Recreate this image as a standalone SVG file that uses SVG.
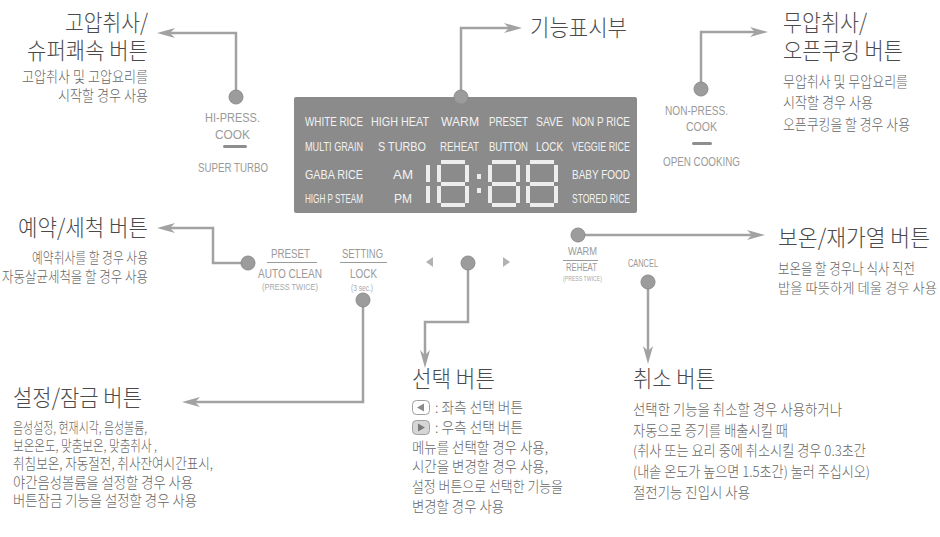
<svg xmlns="http://www.w3.org/2000/svg" width="940" height="537" viewBox="0 0 940 537">
<style>
.ttl{font-family:"Noto Sans CJK KR","Noto Sans",sans-serif;font-size:23px;font-weight:300;fill:#4a4a4a}
.sub{font-family:"Noto Sans CJK KR","Noto Sans",sans-serif;font-size:14.5px;font-weight:300;fill:#666666}
.lbl{font-family:"Liberation Sans",Arial,sans-serif;font-size:12px;fill:#9a9a9a}
.sm{font-family:"Liberation Sans",Arial,sans-serif;font-size:8.5px;fill:#a8a8a8}
.dsp{font-family:"Liberation Sans",Arial,sans-serif;font-size:13px;fill:#f2f2f2}
.seg{fill:#ededed}
.conn{fill:none;stroke:#a2a2a2;stroke-width:2.5}
.dot{fill:#9c9c9c;stroke:#8c8c8c;stroke-width:1}
.div{stroke:#9a9a9a;stroke-width:1}
.tri{fill:#b2b2b2}
</style>
<defs>
<marker id="ah" markerUnits="userSpaceOnUse" markerWidth="20" markerHeight="12" refX="5" refY="5" orient="auto" overflow="visible">
<path d="M0,0 L18,5 L0,10 L5,5 z" fill="#a2a2a2"/>
</marker>
<g id="d8">
<rect class="seg" x="4" y="0" width="24" height="4"/>
<rect class="seg" x="28" y="5" width="4" height="17"/>
<rect class="seg" x="28" y="26" width="4" height="17"/>
<rect class="seg" x="4" y="43" width="24" height="4"/>
<rect class="seg" x="0" y="26" width="4" height="17"/>
<rect class="seg" x="0" y="5" width="4" height="17"/>
<rect class="seg" x="4" y="22" width="24" height="4"/>
</g>
</defs>
<rect width="940" height="537" fill="#ffffff"/>

<g id="connectors">
<path class="conn" d="M236,97 V33 H170" marker-end="url(#ah)"/>
<path class="conn" d="M461,97 V28 H509" marker-end="url(#ah)"/>
<path class="conn" d="M701,89 V32 H755" marker-end="url(#ah)"/>
<path class="conn" d="M248,263 H213 V228 H170" marker-end="url(#ah)"/>
<path class="conn" d="M363,300 V402 H195" marker-end="url(#ah)"/>
<path class="conn" d="M468,263 V322 H425 V355" marker-end="url(#ah)"/>
<path class="conn" d="M578,235 H752" marker-end="url(#ah)"/>
<path class="conn" d="M648,282 V351" marker-end="url(#ah)"/>
</g>

<g id="display">
<rect x="294" y="97" width="343" height="116" rx="2" fill="#8b8b8b"/>
<text class="dsp" x="305" y="126" textLength="58" lengthAdjust="spacingAndGlyphs">WHITE RICE</text>
<text class="dsp" x="371" y="126" textLength="58" lengthAdjust="spacingAndGlyphs">HIGH HEAT</text>
<text class="dsp" x="441" y="126" textLength="38" lengthAdjust="spacingAndGlyphs">WARM</text>
<text class="dsp" x="489" y="126" textLength="39" lengthAdjust="spacingAndGlyphs">PRESET</text>
<text class="dsp" x="536" y="126" textLength="27" lengthAdjust="spacingAndGlyphs">SAVE</text>
<text class="dsp" x="572" y="126" textLength="58" lengthAdjust="spacingAndGlyphs">NON P RICE</text>
<text class="dsp" x="305" y="151" textLength="58" lengthAdjust="spacingAndGlyphs">MULTI GRAIN</text>
<text class="dsp" x="378" y="151" textLength="48" lengthAdjust="spacingAndGlyphs">S TURBO</text>
<text class="dsp" x="440" y="151" textLength="39" lengthAdjust="spacingAndGlyphs">REHEAT</text>
<text class="dsp" x="489" y="151" textLength="39" lengthAdjust="spacingAndGlyphs">BUTTON</text>
<text class="dsp" x="536" y="151" textLength="27" lengthAdjust="spacingAndGlyphs">LOCK</text>
<text class="dsp" x="572" y="151" textLength="58" lengthAdjust="spacingAndGlyphs">VEGGIE RICE</text>
<text class="dsp" x="305" y="179" textLength="58" lengthAdjust="spacingAndGlyphs">GABA RICE</text>
<text class="dsp" x="393" y="179" textLength="20" lengthAdjust="spacingAndGlyphs">AM</text>
<text class="dsp" x="572" y="179" textLength="58" lengthAdjust="spacingAndGlyphs">BABY FOOD</text>
<text class="dsp" x="305" y="203" textLength="58" lengthAdjust="spacingAndGlyphs">HIGH P STEAM</text>
<text class="dsp" x="394" y="203" textLength="18" lengthAdjust="spacingAndGlyphs">PM</text>
<text class="dsp" x="572" y="203" textLength="58" lengthAdjust="spacingAndGlyphs">STORED RICE</text>
<rect class="seg" x="426" y="165" width="4" height="17"/>
<rect class="seg" x="426" y="186" width="4" height="17"/>
<use href="#d8" x="437" y="160"/>
<rect class="seg" x="477" y="174" width="4" height="5"/>
<rect class="seg" x="477" y="188" width="4" height="5"/>
<use href="#d8" x="488" y="160"/>
<use href="#d8" x="526" y="160"/>
<circle class="dot" cx="461" cy="97" r="7"/>
</g>

<g id="hi-press">
<circle class="dot" cx="236" cy="97" r="7"/>
<text class="lbl" x="205" y="122" textLength="55" lengthAdjust="spacingAndGlyphs">HI-PRESS.</text>
<text class="lbl" x="215" y="139" textLength="35" lengthAdjust="spacingAndGlyphs">COOK</text>
<rect x="223" y="145" width="24" height="3" rx="1.5" fill="#8e8e8e"/>
<text class="lbl" x="198" y="172" textLength="70" lengthAdjust="spacingAndGlyphs">SUPER TURBO</text>
<text class="ttl" x="65" y="31" textLength="83" lengthAdjust="spacingAndGlyphs">고압취사/</text>
<text class="ttl" x="27" y="59" textLength="121" lengthAdjust="spacingAndGlyphs">슈퍼쾌속 버튼</text>
<text class="sub" x="22" y="82" textLength="126" lengthAdjust="spacingAndGlyphs">고압취사 및 고압요리를</text>
<text class="sub" x="58" y="101" textLength="90" lengthAdjust="spacingAndGlyphs">시작할 경우 사용</text>
</g>

<g id="display-label">
<text class="ttl" x="530" y="36" textLength="97" lengthAdjust="spacingAndGlyphs">기능표시부</text>
</g>

<g id="non-press">
<circle class="dot" cx="701" cy="89" r="7"/>
<text class="lbl" x="665" y="115" textLength="63" lengthAdjust="spacingAndGlyphs">NON-PRESS.</text>
<text class="lbl" x="686" y="131" textLength="31" lengthAdjust="spacingAndGlyphs">COOK</text>
<rect x="692" y="142" width="20" height="3" rx="1.5" fill="#8e8e8e"/>
<text class="lbl" x="663" y="166" textLength="77" lengthAdjust="spacingAndGlyphs">OPEN COOKING</text>
<text class="ttl" x="783" y="31" textLength="84" lengthAdjust="spacingAndGlyphs">무압취사/</text>
<text class="ttl" x="783" y="59" textLength="120" lengthAdjust="spacingAndGlyphs">오픈쿠킹 버튼</text>
<text class="sub" x="783" y="87" textLength="125" lengthAdjust="spacingAndGlyphs">무압취사 및 무압요리를</text>
<text class="sub" x="783" y="108" textLength="90" lengthAdjust="spacingAndGlyphs">시작할 경우 사용</text>
<text class="sub" x="783" y="130" textLength="127" lengthAdjust="spacingAndGlyphs">오픈쿠킹을 할 경우 사용</text>
</g>

<g id="preset">
<circle class="dot" cx="248" cy="263" r="7"/>
<text class="lbl" x="271" y="258" textLength="39" lengthAdjust="spacingAndGlyphs">PRESET</text>
<line class="div" x1="267" y1="262.5" x2="317" y2="262.5"/>
<text class="lbl" x="258" y="278" textLength="64" lengthAdjust="spacingAndGlyphs">AUTO CLEAN</text>
<text class="sm" x="262" y="290" textLength="56" lengthAdjust="spacingAndGlyphs">(PRESS TWICE)</text>
<text class="ttl" x="18" y="236" textLength="130" lengthAdjust="spacingAndGlyphs">예약/세척 버튼</text>
<text class="sub" x="32" y="263" textLength="116" lengthAdjust="spacingAndGlyphs">예약취사를 할 경우 사용</text>
<text class="sub" x="2" y="282" textLength="146" lengthAdjust="spacingAndGlyphs">자동살균세척을 할 경우 사용</text>
</g>

<g id="setting">
<circle class="dot" cx="363" cy="300" r="7"/>
<text class="lbl" x="342" y="258" textLength="41" lengthAdjust="spacingAndGlyphs">SETTING</text>
<line class="div" x1="340" y1="262.5" x2="387" y2="262.5"/>
<text class="lbl" x="350" y="278" textLength="27" lengthAdjust="spacingAndGlyphs">LOCK</text>
<text class="sm" x="351" y="291" textLength="22" lengthAdjust="spacingAndGlyphs">(3 sec.)</text>
<text class="ttl" x="13" y="406" textLength="129" lengthAdjust="spacingAndGlyphs">설정/잠금 버튼</text>
<text class="sub" x="13" y="433" textLength="134" lengthAdjust="spacingAndGlyphs">음성설정, 현재시각, 음성볼륨,</text>
<text class="sub" x="13" y="451" textLength="144" lengthAdjust="spacingAndGlyphs">보온온도, 맞춤보온, 맞춤취사 ,</text>
<text class="sub" x="13" y="469" textLength="200" lengthAdjust="spacingAndGlyphs">취침보온, 자동절전, 취사잔여시간표시,</text>
<text class="sub" x="13" y="488" textLength="180" lengthAdjust="spacingAndGlyphs">야간음성볼륨을 설정할 경우 사용</text>
<text class="sub" x="13" y="506" textLength="184" lengthAdjust="spacingAndGlyphs">버튼잠금 기능을 설정할 경우 사용</text>
</g>

<g id="select">
<polygon class="tri" points="426,262 433,257 433,267"/>
<polygon class="tri" points="503,257 510,262 503,267"/>
<circle class="dot" cx="468" cy="263" r="7"/>
<text class="ttl" x="412" y="387" textLength="83" lengthAdjust="spacingAndGlyphs">선택 버튼</text>
<rect x="412.5" y="400.5" width="17" height="14" rx="4" fill="#ffffff" stroke="#a0a0a0"/>
<polygon points="417,407.5 424,403.5 424,411.5" fill="#8a8a8a"/>
<text class="sub" x="435" y="413" textLength="88" lengthAdjust="spacingAndGlyphs">: 좌측 선택 버튼</text>
<rect x="412.5" y="420.5" width="17" height="14" rx="4" fill="#d6d6d6" stroke="#a0a0a0"/>
<polygon points="418,423.5 425,427.5 418,431.5" fill="#7a7a7a"/>
<text class="sub" x="435" y="433" textLength="88" lengthAdjust="spacingAndGlyphs">: 우측 선택 버튼</text>
<text class="sub" x="412" y="453" textLength="136" lengthAdjust="spacingAndGlyphs">메뉴를 선택할 경우 사용,</text>
<text class="sub" x="412" y="472" textLength="136" lengthAdjust="spacingAndGlyphs">시간을 변경할 경우 사용,</text>
<text class="sub" x="412" y="492" textLength="151" lengthAdjust="spacingAndGlyphs">설정 버튼으로 선택한 기능을</text>
<text class="sub" x="412" y="512" textLength="92" lengthAdjust="spacingAndGlyphs">변경할 경우 사용</text>
</g>

<g id="warm">
<circle class="dot" cx="578" cy="235" r="7"/>
<text class="lbl" x="568" y="255" textLength="29" lengthAdjust="spacingAndGlyphs" style="font-size:11px">WARM</text>
<line class="div" x1="563" y1="260.5" x2="598" y2="260.5"/>
<text class="lbl" x="566" y="271" textLength="31" lengthAdjust="spacingAndGlyphs" style="font-size:11px">REHEAT</text>
<text class="sm" x="563" y="281" textLength="39" lengthAdjust="spacingAndGlyphs" style="font-size:7.5px">(PRESS TWICE)</text>
<text class="ttl" x="778" y="246" textLength="152" lengthAdjust="spacingAndGlyphs">보온/재가열 버튼</text>
<text class="sub" x="778" y="274" textLength="137" lengthAdjust="spacingAndGlyphs">보온을 할 경우나 식사 직전</text>
<text class="sub" x="778" y="293" textLength="159" lengthAdjust="spacingAndGlyphs" style="font-size:13.5px">밥을 따뜻하게 데울 경우 사용</text>
</g>

<g id="cancel">
<text class="lbl" x="628" y="267" textLength="30" lengthAdjust="spacingAndGlyphs" style="font-size:10.5px">CANCEL</text>
<circle class="dot" cx="648" cy="282" r="7"/>
<text class="ttl" x="633" y="387" textLength="82" lengthAdjust="spacingAndGlyphs">취소 버튼</text>
<text class="sub" x="633" y="415" textLength="209" lengthAdjust="spacingAndGlyphs">선택한 기능을 취소할 경우 사용하거나</text>
<text class="sub" x="633" y="436" textLength="155" lengthAdjust="spacingAndGlyphs">자동으로 증기를 배출시킬 때</text>
<text class="sub" x="633" y="456" textLength="233" lengthAdjust="spacingAndGlyphs">(취사 또는 요리 중에 취소시킬 경우 0.3초간</text>
<text class="sub" x="633" y="477" textLength="237" lengthAdjust="spacingAndGlyphs">(내솥 온도가 높으면 1.5초간) 눌러 주십시오)</text>
<text class="sub" x="633" y="498" textLength="117" lengthAdjust="spacingAndGlyphs">절전기능 진입시 사용</text>
</g>
</svg>
